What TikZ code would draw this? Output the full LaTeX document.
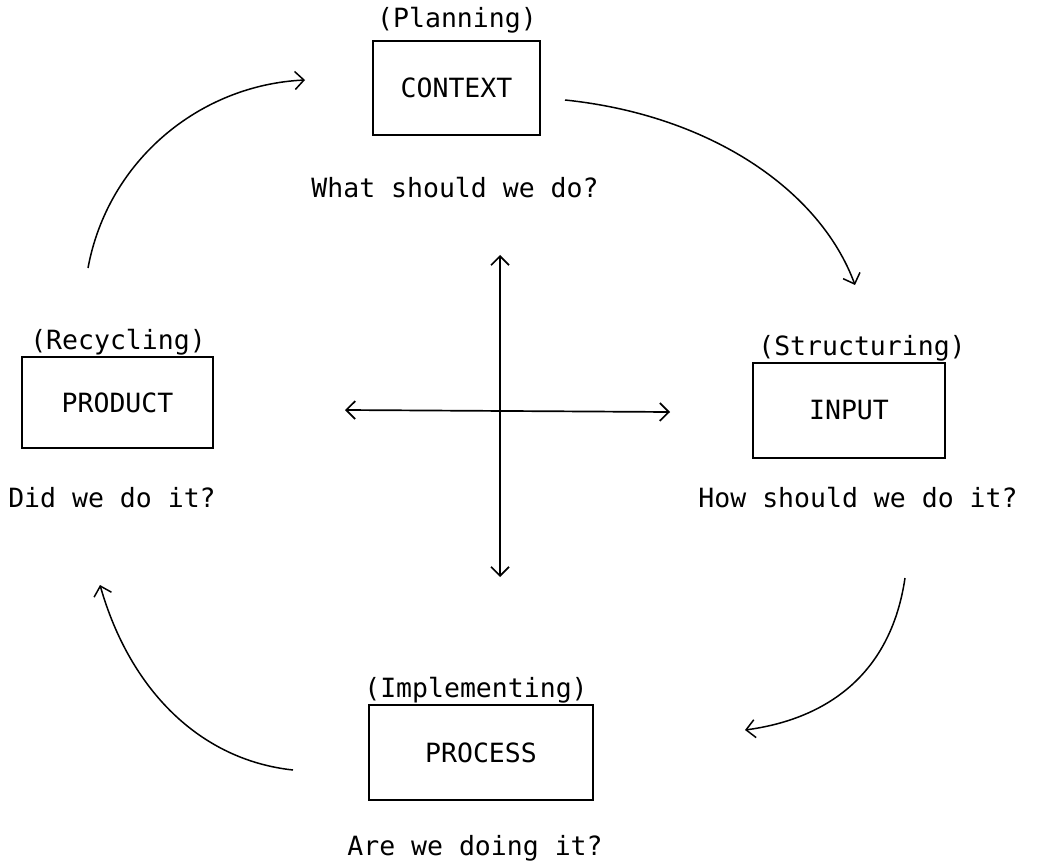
\documentclass[tikz,border=0pt]{standalone}
\usepackage{fontspec}
\setmonofont{DejaVu Sans Mono}
\usetikzlibrary{arrows.meta}
\begin{document}
\begin{tikzpicture}[x=1pt,y=-1pt,
  every node/.style={font=\ttfamily\fontsize{26.5}{30}\selectfont, inner sep=0pt},
  stagebox/.style={draw, line width=1.5pt, rectangle},
  conn/.style={line width=1.5pt, -{Straight Barb[length=9pt,width=18pt,line width=1.5pt]}},
  axis/.style={line width=1.7pt, {Straight Barb[length=9pt,width=18pt,line width=1.7pt]}-{Straight Barb[length=9pt,width=18pt,line width=1.7pt]}}]
\useasboundingbox (0,0) rectangle (1047,861);
% boxes
\node[stagebox, minimum width=167pt, minimum height=94pt] (context) at (456.5,88) {CONTEXT};
\node[stagebox, minimum width=191pt, minimum height=91pt] (product) at (117.5,402.5) {PRODUCT};
\node[stagebox, minimum width=192pt, minimum height=95pt] (input) at (849,410.5) {INPUT};
\node[stagebox, minimum width=224pt, minimum height=95pt] (process) at (481,752.5) {PROCESS};
% labels
\node (planning) at (457,20) {(Planning)};
\node (q1) at (455,188) {What should we do?};
\node (recycling) at (118,342) {(Recycling)};
\node (q4) at (112,498) {Did we do it?};
\node (structuring) at (862,348) {(Structuring)};
\node (q2) at (858,498) {How should we do it?};
\node (implementing) at (476,690) {(Implementing)};
\node (q3) at (475,848) {Are we doing it?};
% cross
\coordinate (ctop) at (500,255);
\coordinate (cbot) at (500,577);
\coordinate (cleft) at (345,410);
\coordinate (cright) at (670,412);
\draw[axis] (ctop) -- (cbot);
\draw[axis] (cleft) -- (cright);
% cycle arrows
\coordinate (a1s) at (88,268);
\coordinate (a1e) at (305,80);
\coordinate (a2s) at (565,100);
\coordinate (a2e) at (855,285);
\coordinate (a3s) at (905,578);
\coordinate (a3e) at (745,730);
\coordinate (a4s) at (293,770);
\coordinate (a4e) at (100,585);
\draw[conn] (a1s) .. controls (108,160) and (200,85) .. (a1e);
\draw[conn] (a2s) .. controls (710,115) and (820,190) .. (a2e);
\draw[conn] (a3s) .. controls (890,680) and (820,720) .. (a3e);
\draw[conn] (a4s) .. controls (200,760) and (130,690) .. (a4e);
\end{tikzpicture}
\end{document}
